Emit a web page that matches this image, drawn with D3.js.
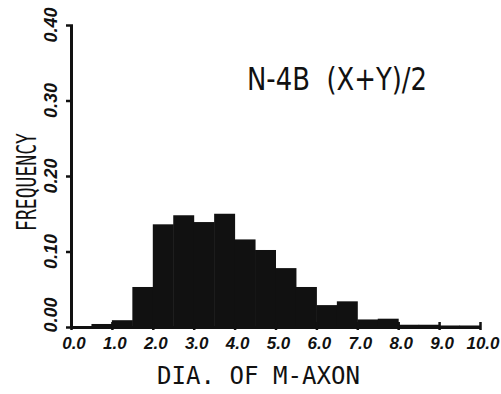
<!DOCTYPE html>
<html>
<head>
<meta charset="utf-8">
<script src="https://cdn.jsdelivr.net/npm/d3@7"></script>
<style>
  body { margin: 0; background: #fff; }
  svg { display: block; }
</style>
</head>
<body>
<svg id="chart" width="501" height="394"></svg>
<script>
// histogram bins (lower edge, width 0.5) and frequency
const binStarts = [0.5, 1.0, 1.5, 2.0, 2.5, 3.0, 3.5, 4.0, 4.5, 5.0, 5.5, 6.0, 6.5, 7.0, 7.5, 8.0, 8.5, 9.0, 9.5];
const freqs     = [0.004, 0.009, 0.053, 0.136, 0.148, 0.139, 0.150, 0.116, 0.102, 0.078, 0.053, 0.029, 0.034, 0.010, 0.011, 0.003, 0.003, 0.002, 0.002];
const binWidth = 0.5;

const xTicks = [0, 1, 2, 3, 4, 5, 6, 7, 8, 9, 10];
const yTicks = [0, 0.1, 0.2, 0.3, 0.4];

const titleText = "N-4B  (X+Y)/2";
const xLabel = "DIA. OF M-AXON";
const yLabel = "FREQUENCY";

const svg = d3.select("#chart");

// plot frame
const x = d3.scaleLinear().domain([0, 10]).range([71, 480]);
const y = d3.scaleLinear().domain([0, 0.4]).range([327, 25]);

const ink = "#111";

// bars
svg.append("g")
  .selectAll("rect")
  .data(binStarts.map((b, i) => ({x0: b, f: freqs[i]})))
  .enter()
  .append("rect")
    .attr("x", d => x(d.x0))
    .attr("y", d => y(d.f))
    .attr("width", d => x(d.x0 + binWidth) - x(d.x0) + 0.5)
    .attr("height", d => y(0) - y(d.f))
    .attr("fill", ink);

// x axis
const xAxis = svg.append("g")
  .attr("transform", "translate(0," + y(0) + ")")
  .call(d3.axisBottom(x).tickValues(xTicks).tickSize(0).tickFormat(""));
xAxis.select(".domain").attr("stroke", ink).attr("stroke-width", 3);
xAxis.selectAll(".tick").append("line")
  .attr("y1", -5).attr("y2", 3)
  .attr("stroke", ink).attr("stroke-width", 2.5);

svg.append("g")
  .selectAll("text")
  .data(xTicks)
  .enter()
  .append("text")
    .attr("x", d => x(d) + 3)
    .attr("y", 349)
    .attr("text-anchor", "middle")
    .style("font-family", "Liberation Sans, sans-serif")
    .style("font-style", "italic")
    .style("font-weight", "bold")
    .style("font-size", "17px")
    .attr("fill", ink)
    .text(d => d.toFixed(1));

// y axis
const yAxis = svg.append("g")
  .attr("transform", "translate(" + x(0) + ",0)")
  .call(d3.axisLeft(y).tickValues(yTicks).tickSize(0).tickFormat(""));
yAxis.select(".domain").attr("stroke", ink).attr("stroke-width", 3);
yAxis.selectAll(".tick").append("line")
  .attr("x1", -5).attr("x2", 2)
  .attr("stroke", ink).attr("stroke-width", 2.5);

svg.append("g")
  .selectAll("text")
  .data(yTicks)
  .enter()
  .append("text")
    .attr("transform", d => "translate(57," + (y(d) - (d === 0 ? 12 : 0)) + ") rotate(-90)")
    .attr("text-anchor", "middle")
    .style("font-family", "Liberation Sans, sans-serif")
    .style("font-style", "italic")
    .style("font-weight", "bold")
    .style("font-size", "18px")
    .attr("fill", ink)
    .text(d => d.toFixed(2));

// axis titles
svg.append("text")
  .attr("x", 157)
  .attr("y", 384)
  .attr("textLength", 203)
  .attr("lengthAdjust", "spacingAndGlyphs")
  .style("font-family", "DejaVu Sans Mono, monospace")
  .style("font-size", "24px")
  .attr("fill", ink)
  .text(xLabel);

svg.append("text")
  .attr("transform", "translate(36,231) rotate(-90)")
  .attr("textLength", 98)
  .attr("lengthAdjust", "spacingAndGlyphs")
  .style("font-family", "DejaVu Sans Mono, monospace")
  .style("font-size", "26px")
  .attr("fill", ink)
  .text(yLabel);

// in-plot title
svg.append("text")
  .attr("x", 247)
  .attr("y", 90)
  .attr("textLength", 180)
  .attr("lengthAdjust", "spacingAndGlyphs")
  .style("white-space", "pre")
  .style("font-family", "DejaVu Sans, sans-serif")
  .style("font-size", "32px")
  .attr("fill", ink)
  .text(titleText);
</script>
</body>
</html>
